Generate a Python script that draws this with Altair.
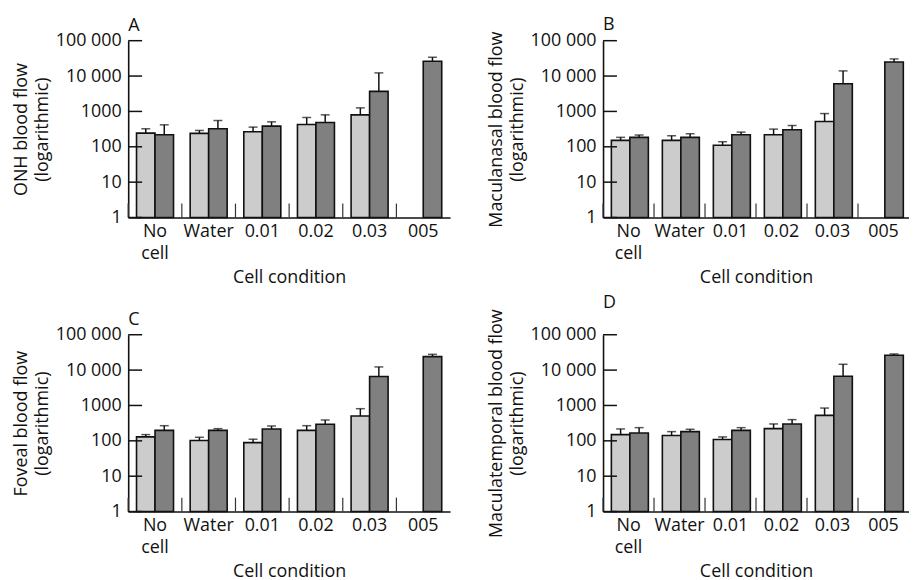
import altair as alt
import pandas as pd

conds = ["No cell", "Water", "0.01", "0.02", "0.03", "005"]
y_ticks = [1, 10, 100, 1000, 10000, 100000]

panel_letters = ["A", "B", "C", "D"]
panel_titles = ["ONH blood flow", "Maculanasal blood flow", "Foveal blood flow", "Maculatemporal blood flow"]

A_light = [244, 239, 266, 428, 800, None]
A_light_err = [323, 290, 360, 673, 1260, None]
A_dark = [219, 323, 384, 487, 3690, 26300]
A_dark_err = [418, 553, 508, 800, 12300, 34000]

B_light = [152, 152, 110, 218, 519, None]
B_light_err = [185, 205, 139, 316, 870, None]
B_dark = [185, 185, 218, 303, 6050, 25100]
B_dark_err = [215, 234, 260, 400, 14000, 30500]

C_light = [129, 102, 89, 198, 502, None]
C_light_err = [150, 126, 111, 268, 810, None]
C_dark = [198, 198, 217, 293, 6580, 24000]
C_dark_err = [268, 221, 263, 388, 12300, 27900]

D_light = [150, 141, 109, 221, 526, None]
D_light_err = [217, 182, 129, 300, 845, None]
D_dark = [167, 182, 198, 300, 6720, 26200]
D_dark_err = [236, 212, 236, 398, 14600, 28600]

panel_data = [
    (A_light, A_light_err, A_dark, A_dark_err),
    (B_light, B_light_err, B_dark, B_dark_err),
    (C_light, C_light_err, C_dark, C_dark_err),
    (D_light, D_light_err, D_dark, D_dark_err),
]

FONT = "Open Sans"
H = 178

def make_panel(letter, title, arrays, W):
    light, light_err, dark, dark_err = arrays
    rows = []
    for i, c in enumerate(conds):
        if light[i] is not None:
            rows.append({"cond": c, "series": "a", "value": light[i], "upper": light_err[i]})
        if dark[i] is not None:
            rows.append({"cond": c, "series": "b", "value": dark[i], "upper": dark_err[i]})
    df = pd.DataFrame(rows)
    ys = alt.Scale(type="log", domain=[1, 100000], nice=False)
    xs = alt.Scale(paddingInner=0, paddingOuter=0)
    xo = alt.XOffset("series:N", scale=alt.Scale(domain=["a", "b"], paddingInner=0, paddingOuter=0.45))

    xaxis = alt.Axis(
        title="Cell condition", labelAngle=0, ticks=False, labelPadding=5,
        labelExpr="datum.value == 'No cell' ? ['No', 'cell'] : datum.value",
        labelLineHeight=22, titlePadding=6,
    )
    yaxis = alt.Axis(
        title=[title, "(logarithmic)"], values=y_ticks, ticks=False, tickSize=0,
        labelPadding=7, titlePadding=4, grid=False,
        labelExpr="datum.value >= 10000 ? replace(format(datum.value, ','), ',', ' ') : format(datum.value, 'd')",
    )

    base = alt.Chart(df)
    bars = base.mark_bar(stroke="#111111", strokeWidth=1.6).encode(
        x=alt.X("cond:N", sort=conds, scale=xs, axis=xaxis),
        xOffset=xo,
        y=alt.Y("value:Q", scale=ys, axis=yaxis),
        y2=alt.datum(1),
        color=alt.Color("series:N", scale=alt.Scale(domain=["a", "b"], range=["#cccccc", "#808080"]), legend=None),
    )
    err = base.mark_rule(color="#111111", strokeWidth=1.5).encode(
        x=alt.X("cond:N", sort=conds, scale=xs),
        xOffset=xo,
        y=alt.Y("value:Q", scale=ys),
        y2="upper:Q",
    )
    caps = base.mark_tick(color="#111111", thickness=1.5, size=9, orient="horizontal").encode(
        x=alt.X("cond:N", sort=conds, scale=xs),
        xOffset=xo,
        y=alt.Y("upper:Q", scale=ys),
    )
    bdf = pd.DataFrame({"cond": conds})
    bticks = alt.Chart(bdf).mark_rule(color="#333333", strokeWidth=1.2).encode(
        x=alt.X("cond:N", sort=conds, scale=xs, bandPosition=0),
        y=alt.value(H),
        y2=alt.value(H - 14),
    )
    tdf = pd.DataFrame({"v": y_ticks})
    yticks = alt.Chart(tdf).mark_rule(color="#111111", strokeWidth=1.5).encode(
        y=alt.Y("v:Q", scale=ys),
        x=alt.value(0),
        x2=alt.value(14),
    )
    return alt.layer(bars, err, caps, bticks, yticks).properties(
        width=W, height=H,
        title=alt.TitleParams(letter, anchor="start", frame="group", fontSize=18,
                              fontWeight="normal", font=FONT, offset=-3, color="#111111"),
    )

widths = [324, 308, 324, 308]
panels = [make_panel(panel_letters[i], panel_titles[i], panel_data[i], widths[i]) for i in range(4)]

chart = alt.vconcat(
    alt.hconcat(panels[0], panels[1], spacing=37),
    alt.hconcat(panels[2], panels[3], spacing=37),
    spacing=7,
).properties(
    padding={"left": 4, "top": 6, "right": 0, "bottom": 0},
).configure_view(stroke=None).configure_axis(
    domainColor="#111111", domainWidth=1.6, labelFont=FONT, titleFont=FONT,
    labelFontSize=18, titleFontSize=18, titleFontWeight="normal",
    labelColor="#111111", titleColor="#111111", titleLineHeight=21,
)

chart.save("out.html", embed_options={"renderer": "svg", "actions": False})
